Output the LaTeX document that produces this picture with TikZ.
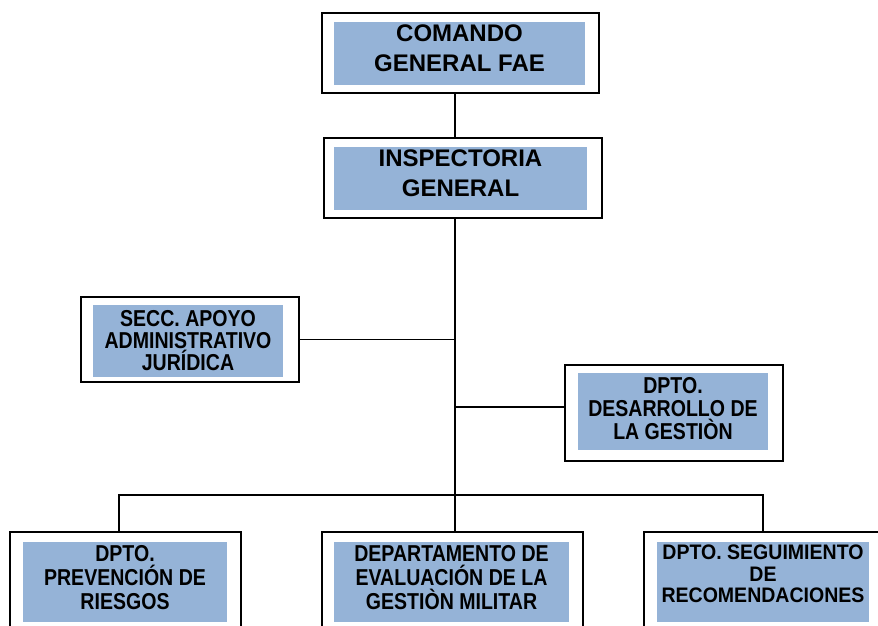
\documentclass[tikz,border=0pt]{standalone}
\usepackage{fontspec}
\setmainfont{Liberation Sans}
\newfontfamily\narrowfont[FakeStretch=0.85]{Liberation Sans}
\newfontfamily\tightfont[FakeStretch=0.93]{Liberation Sans}
\definecolor{boxblue}{RGB}{149,179,215}
\tikzset{
  frame/.style={draw, line width=1.5pt, inner sep=0pt},
  panel/.style={fill=boxblue, inner sep=0pt, align=center},
  bigtext/.style={font=\bfseries\fontsize{24}{30}\selectfont},
  smalltext/.style={font=\narrowfont\bfseries\fontsize{23}{24}\selectfont},
  link/.style={line width=1.3pt}
}

\begin{document}
\begin{tikzpicture}[x=1pt, y=-1pt]
\clip (0,0) rectangle (878,625);
% outer frames
\node[frame, minimum width=277, minimum height=80] (cmd) at (460.5,53) {};
\node[frame, minimum width=278, minimum height=80] (insp) at (463,178) {};
\node[frame, minimum width=218, minimum height=85] (secc) at (190,339.5) {};
\node[frame, minimum width=218, minimum height=96] (desa) at (674,413) {};
\node[frame, minimum width=231, minimum height=99] (prev) at (125.5,581.5) {};
\node[frame, minimum width=261, minimum height=99] (eval) at (452.5,581.5) {};
\node[frame, minimum width=236, minimum height=99] (segu) at (762,581.5) {};
% blue panels with the texts
\node[panel, bigtext, minimum width=251, minimum height=63, text depth=10pt] (cmd-t) at (459.5,53.5) {COMANDO\\GENERAL FAE};
\node[panel, bigtext, minimum width=253, minimum height=63, text depth=10pt] (insp-t) at (460.5,178.5) {INSPECTORIA\\GENERAL};
\node[panel, smalltext, minimum width=190, minimum height=72, text depth=2pt,
  font=\narrowfont\bfseries\fontsize{23}{22}\selectfont] (secc-t) at (188,341) {SECC. APOYO\\ADMINISTRATIVO\\JURÍDICA};
\node[panel, smalltext, minimum width=190, minimum height=77, text depth=7pt,
  font=\narrowfont\bfseries\fontsize{23}{23}\selectfont] (desa-t) at (673,411.5) {DPTO.\\DESARROLLO DE\\LA GESTIÒN};
\node[panel, smalltext, minimum width=204, minimum height=80, text depth=10pt] (prev-t) at (125,582) {DPTO.\\PREVENCIÓN DE\\RIESGOS};
\node[panel, smalltext, minimum width=235, minimum height=80, text depth=10pt] (eval-t) at (451.5,582) {DEPARTAMENTO DE\\EVALUACIÓN DE LA\\GESTIÒN MILITAR};
\node[panel, minimum width=212, minimum height=80, text depth=16pt,
  font=\tightfont\bfseries\fontsize{21}{21.5}\selectfont] (segu-t) at (763,582) {DPTO. SEGUIMIENTO\\DE\\RECOMENDACIONES};
% connectors
\coordinate (spine) at (455,0);
\coordinate (bus) at (455,495);
\coordinate (busL) at (119,495);
\coordinate (busR) at (763,495);
\draw[link] (cmd.south -| spine) -- (insp.north -| spine);
\draw[link] (insp.south -| spine) -- (bus);
\draw[link] (secc.east) -- (secc.east -| spine);
\draw[link] ([yshift=6pt]desa.west) -- ([yshift=6pt]desa.west -| spine);
\draw[link] (prev.north -| busL) -- (busL) -- (busR) -- (segu.north -| busR);
\draw[link] (bus) -- (bus |- eval.north);
\end{tikzpicture}
\end{document}
